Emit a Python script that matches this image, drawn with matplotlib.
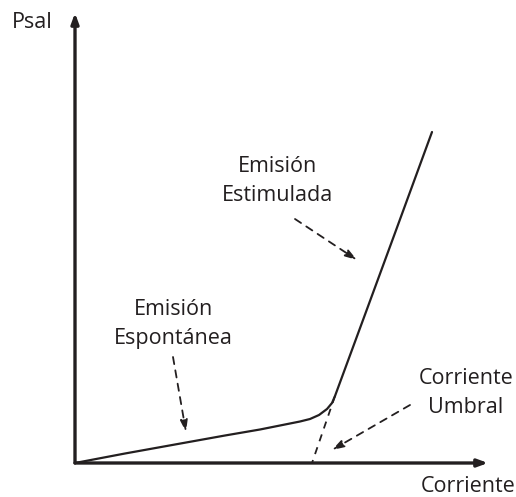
import matplotlib
matplotlib.use("Agg")
import matplotlib.pyplot as plt

plt.rcParams['font.family'] = ['Open Sans', 'DejaVu Sans']

# L-I curve of a laser diode (arbitrary units)
current = [0, 5, 10, 15, 18.5, 21, 22.5, 23.5, 24.4, 25.2, 25.7, 26.0, 28.8, 32, 35.7]
power = [0, 0.95, 1.85, 2.75, 3.35, 3.85, 4.15, 4.4, 4.8, 5.4, 6.0, 6.7, 14.3, 23.0, 33.1]

i_threshold = 23.7
knee = (26.0, 6.7)
x_end = 41.3
y_end = 45.0

labels = {
    "estimulada": "Emisión\nEstimulada",
    "espontanea": "Emisión\nEspontánea",
    "umbral": "Corriente\nUmbral",
    "xlabel": "Corriente",
    "ylabel": "Psal",
}

fig = plt.figure(figsize=(5.16, 4.97), dpi=100)
ax = fig.add_axes([75 / 516, 34 / 497, 441 / 516, 463 / 497])
ax.set_xlim(0, 44.1)
ax.set_ylim(0, 46.3)
ax.axis('off')

# axes with arrows
arrow_axis = dict(arrowstyle='-|>,head_length=0.6,head_width=0.22', color='#231f20', lw=2.4,
                  shrinkA=0, shrinkB=0)
ax.annotate('', xy=(x_end, 0), xytext=(0, 0), arrowprops=arrow_axis, annotation_clip=False)
ax.annotate('', xy=(0, y_end), xytext=(0, 0), arrowprops=arrow_axis, annotation_clip=False)

# curve
ax.plot(current, power, color='#231f20', lw=1.6, solid_capstyle='round',
        solid_joinstyle='round', clip_on=False)

# threshold projection
ax.plot([knee[0], i_threshold], [knee[1], 0], color='#231f20', lw=1.3, ls=(0, (4, 3.5)))

# pointer arrows
arrow_dash = dict(arrowstyle='-|>,head_length=0.7,head_width=0.22', color='#231f20', lw=1.3,
                  linestyle=(0, (4, 3.5)), shrinkA=0, shrinkB=0)
ax.annotate('', xy=(28.2, 20.3), xytext=(22.0, 24.4), arrowprops=arrow_dash)
ax.annotate('', xy=(11.1, 3.1), xytext=(9.8, 10.6), arrowprops=arrow_dash)
ax.annotate('', xy=(25.7, 1.3), xytext=(33.5, 5.8), arrowprops=arrow_dash)

txt = dict(fontsize=15.5, color='#231f20', ha='center', va='center', linespacing=1.45)
ax.text(20.2, 28.2, labels["estimulada"], **txt)
ax.text(9.8, 13.9, labels["espontanea"], **txt)
ax.text(39.1, 7.0, labels["umbral"], **txt)
ax.text(39.3, -2.4, labels["xlabel"], **txt)
ax.text(-4.3, 44.0, labels["ylabel"], **txt)

fig.savefig("out.png", dpi=100)
